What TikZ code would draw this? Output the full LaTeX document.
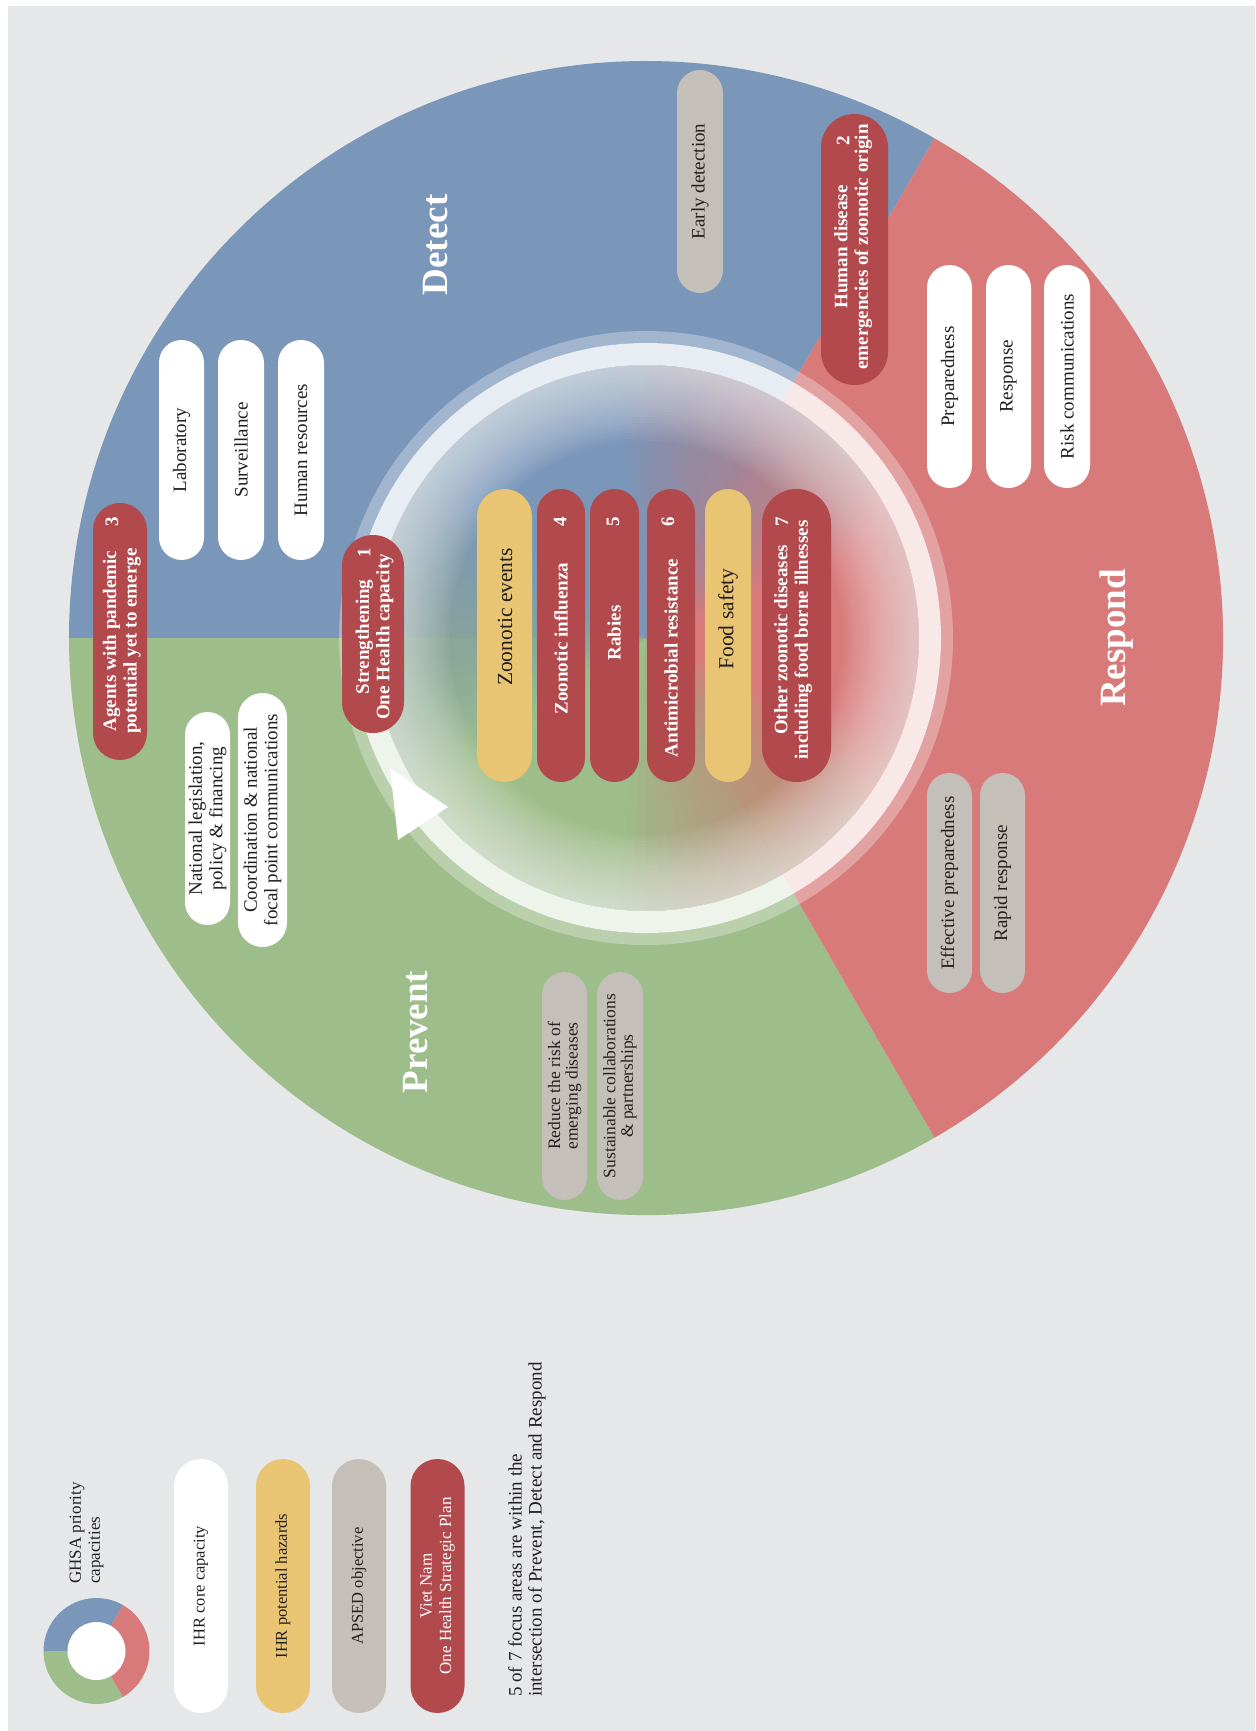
\documentclass[tikz,border=0pt]{standalone}
\usepackage{fontspec}
\setmainfont{Liberation Serif}
\definecolor{bggray}{HTML}{E6E7E9}
\definecolor{detectblue}{HTML}{7A96B9}
\definecolor{preventgreen}{HTML}{9DBD8A}
\definecolor{respondred}{HTML}{D87A7A}
\definecolor{planred}{HTML}{B2494D}
\definecolor{hazardyellow}{HTML}{E8C473}
\definecolor{apsedgray}{HTML}{C4BFB8}
\definecolor{txt}{HTML}{231F20}
\begin{document}
\begin{tikzpicture}[x=1pt,y=-1pt,
  pill/.style 2 args={rectangle, rotate=90, minimum width=#1, minimum height=#2,
    rounded corners=#2/2, inner sep=0pt, align=center, text=txt,
    font=\fontsize{19}{20.5}\selectfont},
  whitepill/.style={fill=white},
  graypill/.style={fill=apsedgray},
  yellowpill/.style={fill=hazardyellow},
  redpill/.style={fill=planred, text=white},
  lbl/.style={rotate=90, align=center, inner sep=0pt, text=txt, font=\fontsize{19}{20.5}\selectfont},
  redlbl/.style={lbl, text=white, font=\bfseries\fontsize{19}{20.5}\selectfont},
  num/.style={rotate=90, inner sep=0pt, text=white, font=\bfseries\fontsize{19}{20}\selectfont},
  head/.style={rotate=90, inner sep=0pt, text=white, font=\bfseries\fontsize{37}{40}\selectfont},
  keytext/.style={rotate=90, align=left, anchor=west, inner sep=0pt, text=txt},
  blend/.style={fill=#1, opacity=0.05},
]
\useasboundingbox (0,0) rectangle (1255,1731);
\fill[white] (0,0) rectangle (1255,1731);
\fill[bggray] (8,6) rectangle (1255,1731);
%%
  % Sectors: Detect, Prevent, Respond
  \coordinate (c) at (646,638);
  \fill[detectblue] (c) -- ++(180:577) arc[start angle=180,end angle=300,radius=577] -- cycle;
  \fill[preventgreen] (c) -- ++(60:577) arc[start angle=60,end angle=180,radius=577] -- cycle;
  \fill[respondred] (c) -- ++(-60:577) arc[start angle=-60,end angle=60,radius=577] -- cycle;
  % Inner disc: colours run into each other
  \foreach \k in {1,...,12} {
    \fill[blend=detectblue] (c) -- ++(300:273) arc[start angle=300,end angle=300+3*\k,radius=273] -- cycle;
    \fill[blend=respondred] (c) -- ++(300-3*\k:273) arc[start angle=300-3*\k,end angle=300,radius=273] -- cycle;
    \fill[blend=respondred] (c) -- ++(60:273) arc[start angle=60,end angle=60+3*\k,radius=273] -- cycle;
    \fill[blend=preventgreen] (c) -- ++(60-3*\k:273) arc[start angle=60-3*\k,end angle=60,radius=273] -- cycle;
    \fill[blend=preventgreen] (c) -- ++(180:273) arc[start angle=180,end angle=180+3*\k,radius=273] -- cycle;
    \fill[blend=detectblue] (c) -- ++(180-3*\k:273) arc[start angle=180-3*\k,end angle=180,radius=273] -- cycle;
  }
  % Inner disc: white glow at the rim
  \foreach \r in {197,200,...,272} {
    \fill[white, opacity=0.035, even odd rule] (c) circle[radius=273] (c) circle[radius=\r];
  }
  % Ring
  \draw[white, opacity=0.3, line width=12] (c) circle[radius=301];
  \draw[white, opacity=0.83, line width=22] (c) circle[radius=284];
  \fill[white] (390,768) -- (448,807) -- (398,840) -- cycle;
  % Headings
  \node[head] (detect) at (436,245) {Detect};
  \node[head] (prevent) at (416,1032) {Prevent};
  \node[head] (respond) at (1117,638) {Respond};
  % Node: detect pills
  \node[pill={223pt}{46pt}, graypill] (earlydet) at (700,181.5) {Early detection};
  \node[pill={271pt}{67pt}, redpill] (zoonorigin) at (854.5,249.5) {};
  \node[redlbl] (zoonorigintxt) at (853,247) {Human disease\\emergencies of zoonotic origin};
  \node[num] (n2) at (843,141) {2};
  \node[pill={220pt}{45pt}, whitepill] (laboratory) at (181.5,450) {Laboratory};
  \node[pill={220pt}{46pt}, whitepill] (surveillance) at (241,450) {Surveillance};
  \node[pill={220pt}{46pt}, whitepill] (humanres) at (301,450) {Human resources};
  \node[pill={257pt}{54pt}, redpill] (agents) at (120,631.5) {};
  \node[redlbl] (agentstxt) at (122,641) {Agents with pandemic\\potential yet to emerge};
  \node[num] (n3) at (112,522) {3};
  \node[pill={198pt}{62pt}, redpill] (strength) at (373,634) {};
  \node[redlbl] (strengthtxt) at (374.5,637) {Strengthening\\One Health capacity};
  \node[num] (n1) at (364,553) {1};
  % Node: prevent pills
  \node[pill={213pt}{45pt}, whitepill] (legislation) at (207.5,818.5) {National legislation,\\policy \& financing};
  \node[pill={254pt}{49pt}, whitepill] (coordination) at (262.5,820) {Coordination \& national\\focal point communications};
  \node[pill={228pt}{45pt}, graypill, font=\fontsize{17.5}{17.5}\selectfont] (reducerisk) at (564.5,1086) {Reduce the risk of\\emerging diseases};
  \node[pill={228pt}{46pt}, graypill, font=\fontsize{17.5}{17.5}\selectfont] (collab) at (620,1086) {Sustainable collaborations\\\& partnerships};
  % Node: respond pills
  \node[pill={223pt}{45pt}, whitepill] (preparedness) at (949.5,376.5) {Preparedness};
  \node[pill={223pt}{45pt}, whitepill] (response) at (1008.5,376.5) {Response};
  \node[pill={223pt}{46pt}, whitepill] (riskcomm) at (1067,376.5) {Risk communications};
  \node[pill={220pt}{45pt}, graypill] (effprep) at (949.5,883) {Effective preparedness};
  \node[pill={220pt}{45pt}, graypill] (rapid) at (1002.5,883) {Rapid response};
  % Node: focus areas
  \node[pill={293pt}{55pt}, yellowpill] (zooevents) at (504.5,635.5) {};
  \node[lbl, font=\fontsize{21.5}{23}\selectfont] (zooeventstxt) at (505,617) {Zoonotic events};
  \node[pill={293pt}{48pt}, redpill] (influenza) at (561,635.5) {};
  \node[redlbl] (influenzatxt) at (561,638.5) {Zoonotic influenza};
  \node[num] (n4) at (560,522) {4};
  \node[pill={293pt}{49pt}, redpill] (rabies) at (614.5,635.5) {};
  \node[redlbl] (rabiestxt) at (614,633) {Rabies};
  \node[num] (n5) at (613,522) {5};
  \node[pill={293pt}{48pt}, redpill] (amr) at (671,635.5) {};
  \node[redlbl] (amrtxt) at (671,658) {Antimicrobial resistance};
  \node[num] (n6) at (668,522) {6};
  \node[pill={293pt}{46pt}, yellowpill] (foodsafety) at (728,635.5) {};
  \node[lbl, font=\fontsize{21.5}{23}\selectfont] (foodsafetytxt) at (728,619) {Food safety};
  \node[pill={293pt}{69pt}, redpill] (otherzoo) at (796.5,635.5) {};
  \node[redlbl] (otherzootxt) at (793,640) {Other zoonotic diseases\\including food borne illnesses};
  \node[num] (n7) at (782,522) {7};
  % Legend
  \fill[detectblue] (96.5,1651) -- ++(180:53) arc[start angle=180,end angle=300,radius=53] -- cycle;
  \fill[preventgreen] (96.5,1651) -- ++(60:53) arc[start angle=60,end angle=180,radius=53] -- cycle;
  \fill[respondred] (96.5,1651) -- ++(-60:53) arc[start angle=-60,end angle=60,radius=53] -- cycle;
  \fill[white] (96.5,1651) circle[radius=29];
  \node[keytext, font=\fontsize{17}{19}\selectfont] (ghsa) at (86.5,1584) {GHSA priority\\capacities};
  \node[pill={254pt}{54pt}, whitepill, font=\fontsize{16.5}{19}\selectfont] (keycore) at (201,1586) {IHR core capacity};
  \node[pill={254pt}{54pt}, yellowpill, font=\fontsize{16.5}{19}\selectfont] (keyhazard) at (283,1586) {IHR potential hazards};
  \node[pill={254pt}{54pt}, graypill, font=\fontsize{16.5}{19}\selectfont] (keyapsed) at (359,1586) {APSED objective};
  \node[pill={254pt}{54pt}, redpill, font=\fontsize{17}{19.5}\selectfont] (keyplan) at (437.5,1586) {Viet Nam\\One Health Strategic Plan};
  \node[keytext, font=\fontsize{19}{20}\selectfont] (footnote) at (527,1697) {5 of 7 focus areas are within the\\intersection of Prevent, Detect and Respond};
%
\end{tikzpicture}
\end{document}
